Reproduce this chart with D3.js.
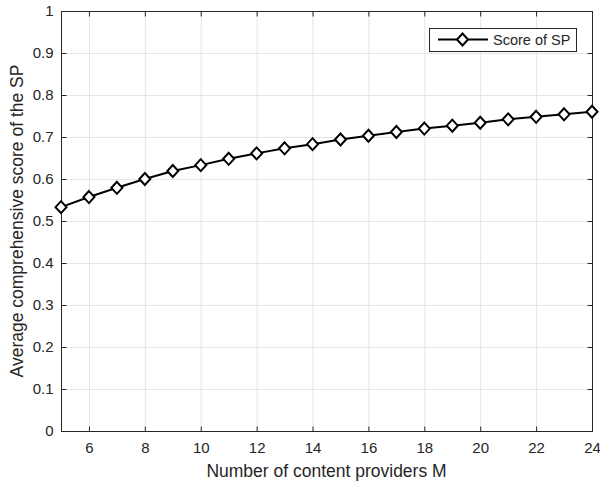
<!DOCTYPE html>
<meta charset="utf-8">
<style>
body { margin: 0; background: #fff; }
text { font-family: "Liberation Sans", Arial, sans-serif; fill: #262626; }
.grid line { stroke: #e5e5e5; stroke-width: 1; }
.frame { fill: none; stroke: #262626; stroke-width: 1; }
.tick line { stroke: #262626; }
</style>
<svg id="chart" width="600" height="483"></svg>
<script src="https://d3js.org/d3.v7.min.js"></script>
<script>

// data
var providers = [5, 6, 7, 8, 9, 10, 11, 12, 13, 14, 15, 16, 17, 18, 19, 20, 21, 22, 23, 24];
var scoreSP = [0.533, 0.557, 0.579, 0.600, 0.619, 0.633, 0.648, 0.661, 0.673, 0.683,
               0.694, 0.703, 0.712, 0.720, 0.727, 0.734, 0.742, 0.748, 0.754, 0.760];
var xTicks = [6, 8, 10, 12, 14, 16, 18, 20, 22, 24];
var yTicks = [0, 0.1, 0.2, 0.3, 0.4, 0.5, 0.6, 0.7, 0.8, 0.9, 1];
var seriesName = "Score of SP";

var svg = d3.select("#chart"),
    pLeft = 61, pRight = 592, pTop = 11, pBottom = 431;

var x = d3.scaleLinear().domain([5, 24]).range([pLeft, pRight]);
var y = d3.scaleLinear().domain([0, 1]).range([pBottom, pTop]);

// grid
var grid = svg.append("g").attr("class", "grid");
grid.selectAll("line.v").data(xTicks).enter().append("line")
    .attr("x1", function(d) { return x(d) + 0.5; })
    .attr("x2", function(d) { return x(d) + 0.5; })
    .attr("y1", pTop).attr("y2", pBottom);
grid.selectAll("line.h").data(yTicks).enter().append("line")
    .attr("y1", function(d) { return y(d) + 0.5; })
    .attr("y2", function(d) { return y(d) + 0.5; })
    .attr("x1", pLeft).attr("x2", pRight);

// axes, ticks pointing inward
var fmt = function(d) { return String(+d.toFixed(1)); };
var xAxis = svg.append("g").attr("transform", "translate(0," + (pBottom + 0.5) + ")")
    .call(d3.axisBottom(x).tickValues(xTicks).tickSizeInner(-5).tickSizeOuter(0).tickPadding(11));
var xTop = svg.append("g").attr("transform", "translate(0," + (pTop + 0.5) + ")")
    .call(d3.axisTop(x).tickValues(xTicks).tickSizeInner(-5).tickSizeOuter(0).tickFormat(""));
var yAxis = svg.append("g").attr("transform", "translate(" + (pLeft + 0.5) + ",0)")
    .call(d3.axisLeft(y).tickValues(yTicks).tickSizeInner(-5).tickSizeOuter(0).tickPadding(8).tickFormat(fmt));
var yRight = svg.append("g").attr("transform", "translate(" + (pRight + 0.5) + ",0)")
    .call(d3.axisRight(y).tickValues(yTicks).tickSizeInner(-5).tickSizeOuter(0).tickFormat(""));
[xAxis, xTop, yAxis, yRight].forEach(function(a) {
  a.select(".domain").remove();
  a.selectAll("text").style("font-size", "15px").attr("fill", "#262626");
});

svg.append("rect").attr("class", "frame")
    .attr("x", pLeft + 0.5).attr("y", pTop + 0.5)
    .attr("width", pRight - pLeft).attr("height", pBottom - pTop);

// line + diamond markers
var line = d3.line()
    .x(function(d, i) { return x(providers[i]); })
    .y(function(d) { return y(d); });

svg.append("path").datum(scoreSP)
    .attr("d", line)
    .attr("fill", "none").attr("stroke", "#000").attr("stroke-width", 2);

function diamond(cx, cy) {
  var w = 5.5, h = 6;
  return "M" + cx + "," + (cy - h) + "L" + (cx + w) + "," + cy + "L" + cx + "," + (cy + h) + "L" + (cx - w) + "," + cy + "Z";
}

svg.append("g").selectAll("path").data(scoreSP).enter().append("path")
    .attr("d", function(d, i) { return diamond(x(providers[i]), y(d)); })
    .attr("fill", "#fff").attr("stroke", "#000").attr("stroke-width", 2);

// axis labels
svg.append("text")
    .attr("x", (pLeft + pRight) / 2).attr("y", 477)
    .attr("text-anchor", "middle").style("font-size", "17.5px")
    .text("Number of content providers M");
svg.append("text")
    .attr("transform", "translate(23," + ((pTop + pBottom) / 2) + ") rotate(-90)")
    .attr("text-anchor", "middle").style("font-size", "17.5px")
    .text("Average comprehensive score of the SP");

// legend
var lg = svg.append("g");
lg.append("rect").attr("x", 429.5).attr("y", 28.5).attr("width", 147).attr("height", 23)
    .attr("fill", "#fff").attr("stroke", "#262626").attr("stroke-width", 1);
lg.append("line").attr("x1", 438).attr("x2", 488).attr("y1", 39.5).attr("y2", 39.5)
    .attr("stroke", "#000").attr("stroke-width", 2);
lg.append("path").attr("d", diamond(462.5, 39.5))
    .attr("fill", "#fff").attr("stroke", "#000").attr("stroke-width", 2);
lg.append("text").attr("x", 493).attr("y", 45).style("font-size", "14.5px").attr("fill", "#000")
    .text(seriesName);

</script>
